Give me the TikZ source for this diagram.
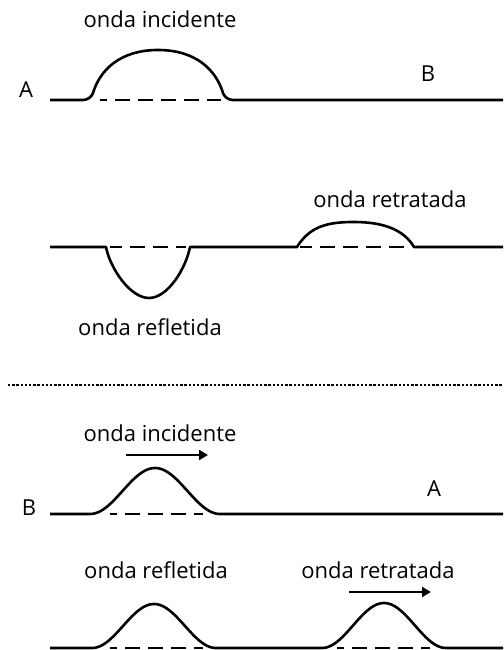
\documentclass[tikz,border=0pt]{standalone}
\usepackage{fontspec}
\setmainfont{Open Sans}
\usepackage{tikz}
\usetikzlibrary{arrows.meta,positioning}

\begin{document}
\begin{tikzpicture}[x=1pt, y=-1pt,
    % ---- styles ----
    W/.style={line width=2.6pt, line join=round},
    DSH/.style={line width=2.8pt, dash pattern=on 15pt off 8pt},
    L/.style={font=\fontsize{22}{26}\selectfont, anchor=base, inner sep=0pt},
    P/.style={font=\fontsize{22}{26}\selectfont, anchor=base, inner sep=0pt},
    AR/.style={-{Triangle[length=9pt, width=10pt]}, line width=2.2pt},
    SEP/.style={line width=2.4pt, dash pattern=on 2.4pt off 1.8pt},
]
\useasboundingbox (0,0) rectangle (503,650);

% ===== Panel 1: incident pulse =====
\node[P] (pA1) at (26,98) {A};
\node[P] (pB1) at (428,82) {B};
\node[L] (inc1) at (160,28) {onda incidente};
\draw[W] (50,100) -- (83,100) .. controls (88,100) and (91.8,96.5) .. (93,93)
    .. controls (100,70) and (120,50) .. (158,50)
    .. controls (196,50) and (216,70) .. (223,93)
    .. controls (224.2,96.5) and (228,100) .. (233,100) -- (503,100);
\draw[DSH, dash phase=8pt] (100,100) -- (221,100);

% ===== Panel 2: reflected and transmitted =====
\node[L] (ret2) at (390,207) {onda retratada};
\node[L] (ref2) at (150,335) {onda refletida};
\draw[W] (50,247) -- (106,247)
    .. controls (110,268) and (130,298) .. (149,298)
    .. controls (168,298) and (186,268) .. (190,247) -- (297,247)
    .. controls (310,226) and (328,222) .. (354,222)
    .. controls (384,222) and (404,230) .. (414,247) -- (503,247);
\draw[DSH, dash phase=3pt] (110,247) -- (186,247);
\draw[DSH, dash phase=3pt] (300,247) -- (411,247);

% ===== Separator =====
\coordinate (sepL) at (8,385);
\coordinate (sepR) at (503,385);
\draw[SEP] (sepL) -- (sepR);

% ===== Panel 3: incident pulse =====
\node[P] (pB3) at (29,515) {B};
\node[P] (pA3) at (434,496) {A};
\node[L] (inc3) at (160,441) {onda incidente};
\coordinate (a3s) at (126,455);
\coordinate (a3e) at (208,455);
\draw[AR] (a3s) -- (a3e);
\draw[W] (50,514) -- plot[domain=-65:65, samples=61]
    ({155+\x}, {514-23*(1+cos(180*\x/65))}) -- (503,514);
\draw[DSH, dash phase=8pt] (110,514) -- (203,514);

% ===== Panel 4: reflected and transmitted =====
\node[L] (ref4) at (156,578) {onda refletida};
\node[L] (ret4) at (378,578) {onda retratada};
\coordinate (a4s) at (349,592);
\coordinate (a4e) at (431,592);
\draw[AR] (a4s) -- (a4e);
\draw[W] (50,648) -- plot[domain=-62:62, samples=61]
    ({154+\x}, {648-22*(1+cos(180*\x/62))})
    -- plot[domain=-62:62, samples=61]
    ({384+\x}, {648-22.5*(1+cos(180*\x/62))}) -- (503,648);
\draw[DSH, dash phase=8pt] (110,648) -- (203,648);
\draw[DSH, dash phase=8pt] (337,648) -- (430,648);

\end{tikzpicture}
\end{document}
